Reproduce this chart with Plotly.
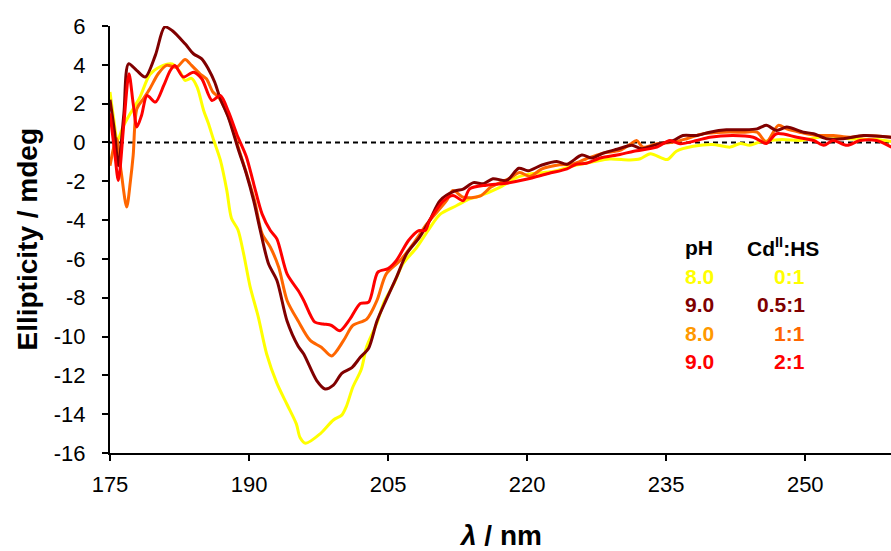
import plotly.graph_objects as go

# ---- data (wavelength nm, ellipticity mdeg) ----
yel_x = [175.0,175.4,175.8,176.4,177.2,178.2,179.3,180.4,181.7,182.6,183.1,183.8,184.4,185.1,185.6,186.2,186.9,187.6,188.1,188.8,189.4,190.1,191.0,191.9,193.0,194.1,195.1,195.5,196.1,197.7,199.1,200.0,200.5,201.2,202.1,202.7,203.8,204.5,205.6,206.6,208.1,209.5,210.6,212.4,213.8,214.6,217.1,218.9,220.6,222.8,225.0,227.1,228.9,231.1,232.2,233.3,235.1,236.1,237.9,240.0,241.9,243.0,244.0,245.1,247.5,249.4,250.5,252.6,254.8,257.7,259.3]
yel_y = [2.6,1.2,0.1,0.8,1.5,2.3,3.5,3.9,4.05,3.6,3.2,3.3,2.85,1.65,1.0,0.1,-0.9,-2.47,-3.9,-4.5,-5.7,-7.4,-9.0,-10.9,-12.4,-13.5,-14.5,-15.2,-15.5,-15.0,-14.3,-14.05,-13.6,-12.6,-11.7,-10.5,-9.3,-8.3,-7.3,-6.25,-5.4,-4.4,-3.7,-3.25,-2.9,-2.8,-2.3,-1.8,-1.6,-1.5,-1.2,-1.0,-0.85,-0.9,-0.84,-0.58,-0.88,-0.45,-0.2,-0.1,-0.24,-0.05,-0.15,0.02,0.15,0.1,0.19,0.33,0.19,0.15,0.05]

drd_x = [175.0,175.5,175.9,176.5,177.0,177.9,178.8,179.9,180.9,181.7,183.1,184.0,184.9,185.6,186.3,186.9,187.8,188.8,189.7,190.5,191.2,192.1,193.0,194.1,195.3,195.9,197.3,198.2,199.1,200.0,201.1,202.0,202.9,203.8,204.8,205.9,207.0,208.4,209.5,210.6,212.2,213.1,214.2,215.3,216.3,217.8,219.1,220.1,221.6,223.2,224.3,225.9,227.0,228.2,229.7,231.3,232.4,234.0,235.8,236.8,238.3,239.7,241.5,243.3,244.8,245.8,246.9,248.0,249.8,250.9,252.3,254.1,256.3,259.3]
drd_y = [2.2,0.5,-1.2,1.5,4.05,3.7,3.37,4.5,5.95,5.77,5.08,4.57,4.31,3.8,3.1,2.25,1.25,-0.3,-1.6,-3.0,-4.5,-6.25,-7.1,-9.2,-10.5,-10.9,-12.27,-12.7,-12.5,-11.9,-11.6,-11.07,-10.6,-9.2,-8.1,-6.95,-5.74,-4.88,-4.0,-3.0,-2.5,-2.4,-2.07,-2.13,-1.87,-1.96,-1.33,-1.46,-1.16,-0.98,-1.12,-0.65,-0.8,-0.55,-0.35,-0.15,-0.32,-0.1,0.1,0.36,0.36,0.53,0.65,0.65,0.7,0.88,0.62,0.79,0.53,0.45,0.19,0.19,0.36,0.27]

org_x = [175.0,175.7,176.2,176.8,177.2,177.5,177.9,178.6,179.3,180.2,181.1,182.2,183.1,183.8,184.7,185.4,186.1,186.7,187.4,188.1,189.0,189.7,190.6,191.4,192.3,193.2,194.1,195.3,196.6,197.8,198.9,200.2,201.2,202.7,203.8,204.8,206.3,207.7,209.2,211.3,212.0,213.1,214.9,216.1,218.1,219.2,220.3,221.6,223.5,225.0,226.4,228.2,230.0,231.1,231.8,232.5,234.0,235.8,237.2,239.0,241.2,243.3,244.8,245.8,247.1,248.0,249.4,251.2,253.0,254.8,256.6,259.3]
org_y = [-1.2,0.2,-1.5,-3.33,-2.0,-0.67,1.74,2.25,2.77,3.54,3.97,3.88,4.28,3.97,3.54,3.28,2.6,2.34,1.74,0.88,-0.5,-1.55,-3.0,-4.7,-5.4,-6.43,-8.14,-9.2,-10.2,-10.55,-11.0,-10.2,-9.43,-9.1,-8.14,-6.77,-6.08,-5.22,-4.19,-3.0,-2.47,-2.82,-2.77,-2.3,-1.85,-1.55,-1.75,-1.36,-1.15,-1.1,-0.84,-0.55,-0.41,-0.1,0.1,-0.24,-0.07,0.02,0.19,0.45,0.53,0.53,0.53,0.02,0.88,0.7,0.53,0.36,0.36,0.27,0.36,0.27]

red_x = [175.0,175.5,175.9,176.5,177.05,177.5,177.9,178.4,179.0,179.9,180.8,181.5,182.0,182.9,184.0,184.9,186.0,186.9,187.8,188.7,189.7,190.5,191.4,192.3,193.0,194.1,195.3,195.9,197.1,198.0,198.9,199.8,200.9,202.0,202.9,203.9,205.0,205.9,207.2,208.3,209.0,209.5,211.0,212.0,213.1,213.8,215.6,217.5,219.9,222.3,224.3,225.3,226.4,227.9,230.0,231.5,234.0,235.4,236.5,238.3,239.7,242.2,244.4,245.8,246.9,249.1,250.9,252.0,253.0,254.5,255.9,257.7,259.3]
red_y = [1.5,-0.5,-1.96,1.0,3.54,2.0,0.8,1.39,2.42,2.08,2.94,3.71,3.97,3.37,3.62,3.28,2.16,2.42,1.56,0.4,-0.72,-2.13,-3.68,-4.54,-4.97,-6.77,-7.63,-8.14,-9.26,-9.35,-9.43,-9.7,-9.09,-8.3,-8.23,-6.68,-6.5,-6.08,-5.05,-4.54,-4.54,-4.0,-3.0,-2.73,-3.0,-2.39,-2.2,-2.12,-1.9,-1.6,-1.36,-1.12,-1.07,-0.8,-0.62,-0.45,-0.24,0.1,-0.07,0.1,0.27,0.36,0.27,-0.05,0.45,0.27,0.1,-0.15,0.1,-0.15,0.1,0.1,-0.24]

ph_labels = ["8.0", "9.0", "8.0", "9.0"]
ratio_labels = ["0:1", "0.5:1", "1:1", "2:1"]
ph_colors = ["#FFFF00", "#800000", "#FF9900", "#FF0000"]
ratio_colors = ["#FFFF00", "#800000", "#FF6600", "#FF0000"]

x_ticks = [175, 190, 205, 220, 235, 250]
y_ticks = [6, 4, 2, 0, -2, -4, -6, -8, -10, -12, -14, -16]
y_ticktext = [str(v) for v in y_ticks]  # plain hyphen minus, as in reference

FONT = "Liberation Sans, Arial, sans-serif"

fig = go.Figure()
series = [
    (yel_x, yel_y, "#FFFF00"),
    (org_x, org_y, "#FF6600"),
    (drd_x, drd_y, "#800000"),
    (red_x, red_y, "#FF0000"),
]
for xs, ys, c in series:
    fig.add_trace(go.Scatter(x=xs, y=ys, mode="lines",
                             line=dict(color=c, width=3, shape="spline", smoothing=0.8),
                             showlegend=False, hoverinfo="skip"))

# zero dashed line
fig.add_shape(type="line", xref="paper", yref="y", x0=0, x1=1, y0=0, y1=0,
              line=dict(color="black", width=2, dash="5px,4px"), layer="below")

L, R, T, B = 110, 0, 26, 98
PW = 891 - L - R
PH = 551 - T - B

fig.update_layout(
    width=891, height=551,
    margin=dict(l=L, r=R, t=T, b=B),
    paper_bgcolor="white", plot_bgcolor="white",
    font=dict(family=FONT, color="black"),
    xaxis=dict(range=[175, 259.25], tickvals=x_ticks, ticktext=[str(v) for v in x_ticks],
               showline=True, linecolor="black", linewidth=2, ticks="outside",
               ticklen=6, tickwidth=2, tickcolor="black", showgrid=False, zeroline=False,
               tickfont=dict(size=22, family=FONT), ticklabelstandoff=5),
    yaxis=dict(range=[-16, 6], tickvals=y_ticks, ticktext=y_ticktext,
               showline=True, linecolor="black", linewidth=2, ticks="outside",
               ticklen=6, tickwidth=2, tickcolor="black", showgrid=False, zeroline=False,
               tickfont=dict(size=22, family=FONT), ticklabelstandoff=12),
)

def px_x(p):
    return (p - L) / PW

def px_y(p):
    return (551 - B - p) / PH

# axis titles
fig.add_annotation(text="<b>Ellipticity / mdeg</b>", xref="paper", yref="paper",
                   x=px_x(27), y=0.5, textangle=-90, showarrow=False,
                   font=dict(size=28, family=FONT), xanchor="center", yanchor="middle")
fig.add_annotation(text="<b><i>λ</i> / nm</b>", xref="paper", yref="paper",
                   x=0.5, y=px_y(535), showarrow=False,
                   font=dict(size=28, family=FONT), xanchor="center", yanchor="middle")

# legend table
hdr_y = px_y(247)
fig.add_annotation(text="<b>pH</b>", xref="paper", yref="paper", x=px_x(683), y=hdr_y,
                   xanchor="left", yanchor="middle", showarrow=False,
                   font=dict(size=21, family=FONT, color="black"))
fig.add_annotation(text="<b>Cd<sup>II</sup>:HS</b>", xref="paper", yref="paper",
                   x=px_x(821), y=hdr_y, xanchor="right", yanchor="middle",
                   showarrow=False, font=dict(size=21, family=FONT, color="black"))
for i in range(4):
    yy = px_y(276.5 + 28.4 * i)
    fig.add_annotation(text="<b>%s</b>" % ph_labels[i], xref="paper", yref="paper",
                       x=px_x(683), y=yy, xanchor="left", yanchor="middle", showarrow=False,
                       font=dict(size=21, family=FONT, color=ph_colors[i]))
    fig.add_annotation(text="<b>%s</b>" % ratio_labels[i], xref="paper", yref="paper",
                       x=px_x(807), y=yy, xanchor="right", yanchor="middle", showarrow=False,
                       font=dict(size=21, family=FONT, color=ratio_colors[i]))

fig.write_html("out.html")
